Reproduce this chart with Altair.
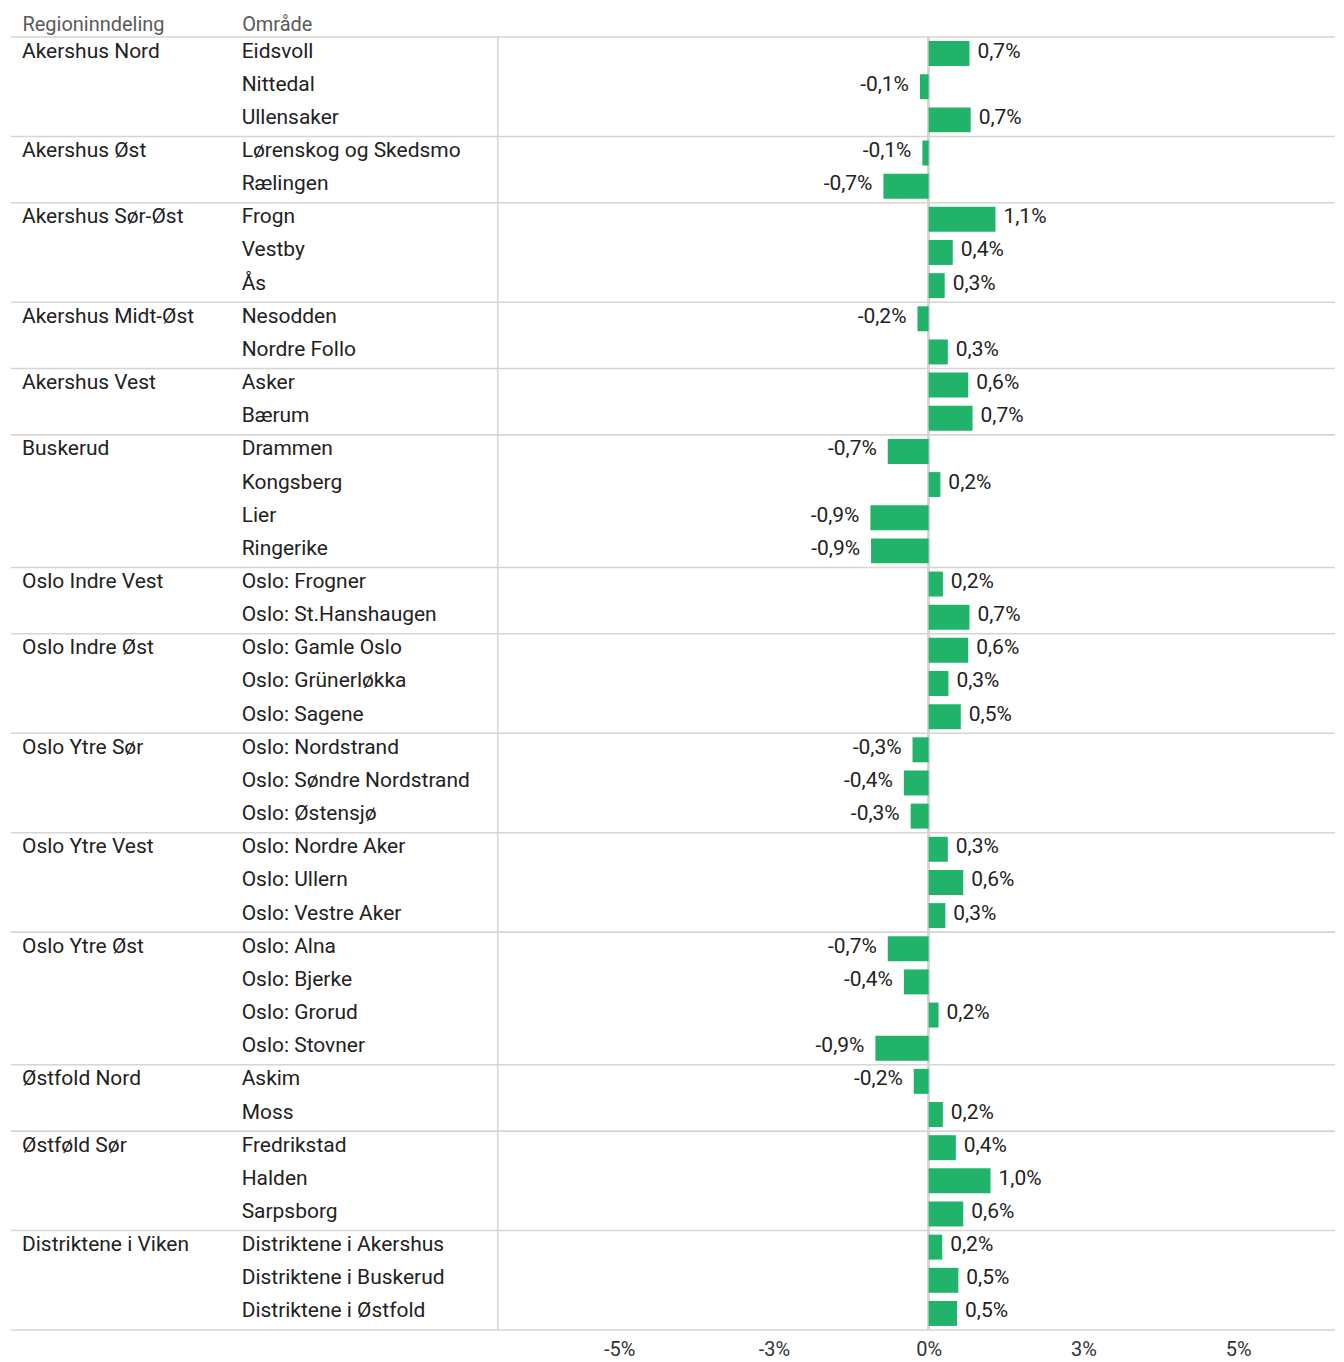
import altair as alt
import pandas as pd

regions = ["Akershus Nord", "Akershus Øst", "Akershus Sør-Øst", "Akershus Midt-Øst",
           "Akershus Vest", "Buskerud", "Oslo Indre Vest", "Oslo Indre Øst",
           "Oslo Ytre Sør", "Oslo Ytre Vest", "Oslo Ytre Øst", "Østfold Nord",
           "Østføld Sør", "Distriktene i Viken"]
group_sizes = [3, 2, 3, 2, 2, 4, 2, 3, 3, 3, 4, 2, 3, 3]
areas = ["Eidsvoll", "Nittedal", "Ullensaker",
         "Lørenskog og Skedsmo", "Rælingen",
         "Frogn", "Vestby", "Ås",
         "Nesodden", "Nordre Follo",
         "Asker", "Bærum",
         "Drammen", "Kongsberg", "Lier", "Ringerike",
         "Oslo: Frogner", "Oslo: St.Hanshaugen",
         "Oslo: Gamle Oslo", "Oslo: Grünerløkka", "Oslo: Sagene",
         "Oslo: Nordstrand", "Oslo: Søndre Nordstrand", "Oslo: Østensjø",
         "Oslo: Nordre Aker", "Oslo: Ullern", "Oslo: Vestre Aker",
         "Oslo: Alna", "Oslo: Bjerke", "Oslo: Grorud", "Oslo: Stovner",
         "Askim", "Moss",
         "Fredrikstad", "Halden", "Sarpsborg",
         "Distriktene i Akershus", "Distriktene i Buskerud", "Distriktene i Østfold"]
values = [0.66, -0.14, 0.68,
          -0.10, -0.73,
          1.08, 0.39, 0.26,
          -0.18, 0.31,
          0.64, 0.71,
          -0.66, 0.19, -0.94, -0.93,
          0.23, 0.66,
          0.64, 0.32, 0.52,
          -0.26, -0.40, -0.29,
          0.31, 0.56, 0.27,
          -0.66, -0.40, 0.16, -0.86,
          -0.24, 0.23,
          0.44, 1.00, 0.56,
          0.22, 0.48, 0.46]
x_ticks = [-5, -2.5, 0, 2.5, 5]
col_headers = ["Regioninndeling", "Område"]

FONT = "Roboto"
FS = 21
GRID = "#d5d5d5"
GREEN = "#22b36b"
TXT = "#222222"
H = 1295
W_TABLE = 487
W_BARS = 839
X_DOMAIN = [-432 / 62, (W_BARS - 432) / 62]

# ---- data frames
first_areas = []
i = 0
for n in group_sizes:
    first_areas.append(areas[i])
    i += n

table_rows = [{"col": col_headers[0], "Område": a, "txt": r} for r, a in zip(regions, first_areas)]
table_rows += [{"col": col_headers[1], "Område": a, "txt": a} for a in areas]
table_df = pd.DataFrame(table_rows)


def fmt(v):
    s = f"{abs(v):.1f}".replace(".", ",") + "%"
    return ("-" + s) if v < 0 else s


bars_df = pd.DataFrame({"Område": areas, "v": values, "lbl": [fmt(v) for v in values]})
top_df = pd.DataFrame({"Område": first_areas})
bottom_df = pd.DataFrame({"Område": [areas[-1]]})

yscale = alt.Scale(domain=areas, paddingInner=0, paddingOuter=0)


def yenc(axis, band=None):
    if band is None:
        return alt.Y("Område:N", scale=yscale, axis=axis, title=None)
    return alt.Y("Område:N", scale=yscale, axis=axis, title=None, bandPosition=band)


def separators(axis):
    top = alt.Chart(top_df).mark_rule(color=GRID, strokeWidth=1.6).encode(y=yenc(axis, 0))
    bot = alt.Chart(bottom_df).mark_rule(color=GRID, strokeWidth=1.6).encode(y=yenc(axis, 1))
    return [top, bot]


# ---- table panel
table_x = alt.X("col:N",
                scale=alt.Scale(domain=col_headers, range=[11, 231], padding=0),
                axis=alt.Axis(orient="top", labelAlign="left", labelAngle=0, domain=False,
                              ticks=False, title=None, labelFontSize=20, labelFont=FONT,
                              labelColor="#5a5a5a", labelPadding=2, labelBaseline="bottom"))
table_text = alt.Chart(table_df).mark_text(
    align="left", baseline="middle", font=FONT, fontSize=FS, color=TXT, dy=-2
).encode(x=table_x, y=yenc(None), text="txt:N")

table = alt.layer(*separators(None), table_text).properties(width=W_TABLE, height=H)

# ---- bar panel
bar_axis_y = alt.Axis(labels=False, ticks=False, grid=False, domain=True,
                      domainColor=GRID, domainWidth=1.6, title=None)
xenc = alt.X("v:Q",
             scale=alt.Scale(domain=X_DOMAIN, nice=False, zero=False),
             axis=alt.Axis(values=x_ticks, domain=False, ticks=False, grid=False, title=None,
                           labelFontSize=20, labelFont=FONT, labelColor="#333333",
                           labelPadding=10,
                           labelExpr="(datum.value < 0 ? '-' : '') + toString(round(abs(datum.value))) + '%'"))

zero_rule = alt.Chart(bars_df).mark_rule(color=GRID, strokeWidth=1.6).encode(
    x=alt.datum(0), y=alt.value(0), y2=alt.value(H)
)
bars = alt.Chart(bars_df).mark_bar(color=GREEN, size=25).encode(
    x=xenc, x2=alt.datum(0), y=yenc(bar_axis_y)
)
pos_lbl = alt.Chart(bars_df).transform_filter("datum.v >= 0").mark_text(
    align="left", baseline="middle", dx=8, dy=-2, font=FONT, fontSize=FS, color=TXT
).encode(x=xenc, y=yenc(bar_axis_y), text="lbl:N")
neg_lbl = alt.Chart(bars_df).transform_filter("datum.v < 0").mark_text(
    align="right", baseline="middle", dx=-11, dy=-2, font=FONT, fontSize=FS, color=TXT
).encode(x=xenc, y=yenc(bar_axis_y), text="lbl:N")

bar_panel = alt.layer(*separators(bar_axis_y), zero_rule, bars, pos_lbl, neg_lbl).properties(
    width=W_BARS, height=H)

chart = alt.hconcat(table, bar_panel, spacing=0, bounds="flush").properties(
    padding={"left": 2, "top": 6, "right": 0, "bottom": 0}
).configure_view(stroke=None)

chart.save("out.html", embed_options={"renderer": "svg", "actions": False})
